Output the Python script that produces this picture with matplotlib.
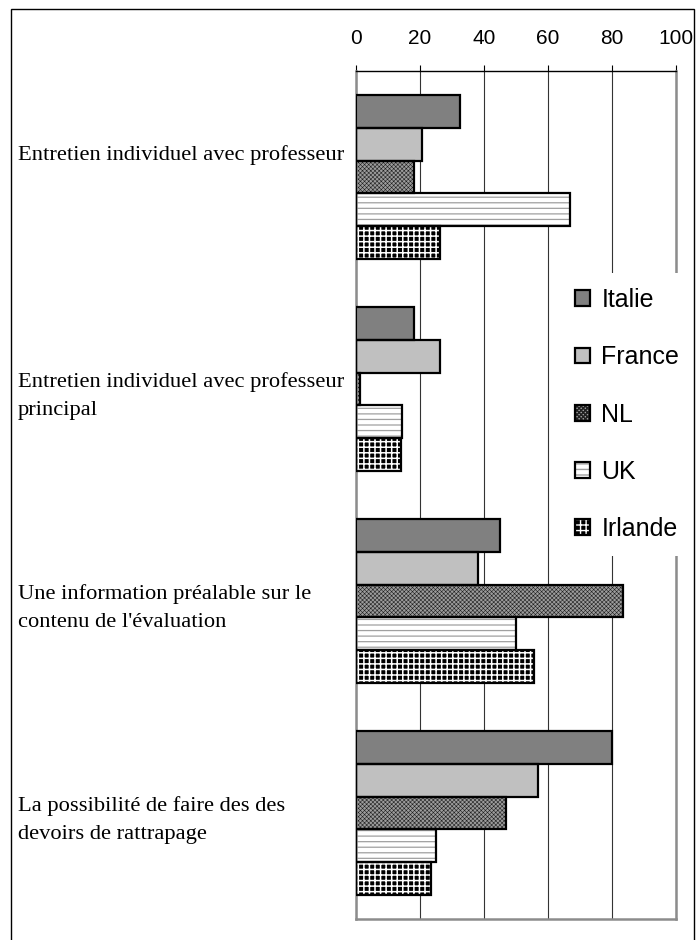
import matplotlib
matplotlib.use("Agg")
import matplotlib.pyplot as plt
import matplotlib.transforms as mtransforms
from matplotlib.legend_handler import HandlerTuple
from matplotlib.patches import Rectangle
import numpy as np

# data (percent)
categories = [
    "Entretien individuel avec professeur\n\n",
    "Entretien individuel avec professeur\nprincipal",
    "Une information préalable sur le\ncontenu de l'évaluation",
    "La possibilité de faire des des\ndevoirs de rattrapage",
]
countries = ["Italie", "France", "NL", "UK", "Irlande"]
italie = [32.5, 18.2, 45.0, 80.1]
france = [20.7, 26.4, 38.0, 57.0]
nl = [18.2, 1.2, 83.3, 46.9]
uk = [66.9, 14.5, 49.9, 25.0]
irlande = [26.4, 14.1, 55.7, 23.3]
ticks = [0, 20, 40, 60, 80, 100]

series = [italie, france, nl, uk, irlande]

# fill colour, hatch, hatch colour, hatch linewidth
STYLES = [
    ("#808080", "", "#808080", 1.0),
    ("#c0c0c0", "", "#c0c0c0", 1.0),
    ("#9c9c9c", "xxxxxxxx", "#202020", 0.4),
    ("white", "---", "#a0a0a0", 0.9),
    ("black", "+++", "white", 1.1),
]

fig = plt.figure(figsize=(6.96, 9.4), dpi=100)
ax = fig.add_axes([356 / 696, 1 - 919 / 940, 320 / 696, 848 / 940])

y = np.arange(len(categories))
h = 0.155
handles = []
for k, (vals, (fc, hatch, hc, hlw)) in enumerate(zip(series, STYLES)):
    pos = y + (k - 2) * h
    with plt.rc_context({"hatch.linewidth": hlw}):
        fill = ax.barh(pos, vals, height=h, color=fc, hatch=hatch,
                       edgecolor=hc, linewidth=0, zorder=2)
    outline = ax.barh(pos, vals, height=h, fill=False, edgecolor="black",
                      linewidth=1.6, zorder=3)
    handles.append((fill, outline))

ax.set_xlim(0, 100)
ax.set_ylim(len(categories) - 0.5, -0.5)
ax.set_xticks(ticks)
ax.xaxis.tick_top()
ax.tick_params(axis="x", direction="out", length=4.5, width=0.8, pad=12,
               labelsize=15, color="black")
for lbl in ax.get_xticklabels():
    lbl.set_family("Liberation Sans")
ax.set_yticks([])
ax.grid(axis="x", color="#333333", linewidth=0.8, zorder=1)
ax.set_axisbelow(True)
for side in ["left", "right", "bottom"]:
    ax.spines[side].set_color("#8c8c8c")
    ax.spines[side].set_linewidth(1.8)
ax.spines["top"].set_color("black")
ax.spines["top"].set_linewidth(1.0)

# category labels, left aligned near the figure edge
trans = mtransforms.blended_transform_factory(fig.transFigure, ax.transData)
trans = mtransforms.offset_copy(trans, fig=fig, x=0, y=-7, units="dots")
for yi, lab in zip(y, categories):
    ax.text(18 / 696, yi, lab, transform=trans, ha="left", va="center",
            family="Liberation Serif", fontsize=16.2, linespacing=1.7)

leg = ax.legend(handles=handles, labels=countries, loc="upper left",
                bbox_to_anchor=(560 / 696, 1 - 273 / 940),
                bbox_transform=fig.transFigure,
                handler_map={tuple: HandlerTuple(ndivide=1, pad=0)},
                prop={"family": "Liberation Sans", "size": 18},
                handlelength=0.6, handleheight=0.6, handletextpad=0.45,
                labelspacing=1.33, borderpad=0.6, borderaxespad=0,
                frameon=True, fancybox=False, framealpha=1,
                facecolor="white", edgecolor="none")
leg.set_zorder(5)

# outer frame of the picture
fig.patches.append(Rectangle((11 / 696, -0.01), 683 / 696, 1 - 9 / 940 + 0.01,
                             transform=fig.transFigure, fill=False,
                             edgecolor="black", linewidth=1.0))

fig.savefig("out.png", dpi=100)
